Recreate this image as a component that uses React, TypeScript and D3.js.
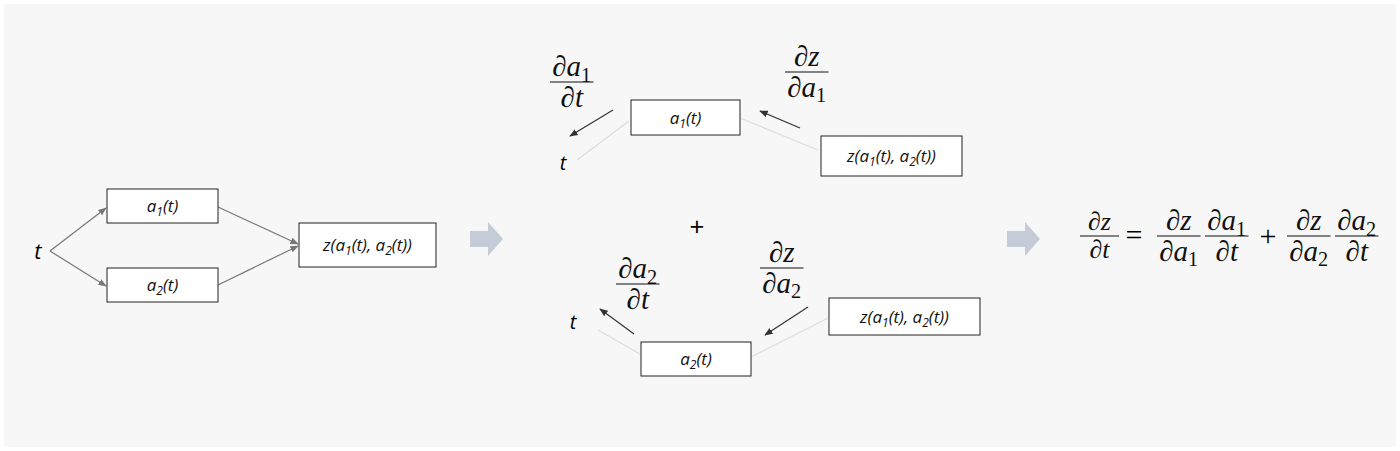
import * as d3 from 'd3';

const boxLabels = ['a1', 'a2', 'z'];
const fracs = [
  { num: ['∂', 'a', '1'], den: ['∂', 't', ''] },
  { num: ['∂', 'z', ''], den: ['∂', 'a', '1'] },
  { num: ['∂', 'a', '2'], den: ['∂', 't', ''] },
  { num: ['∂', 'z', ''], den: ['∂', 'a', '2'] },
];

const serif = '"Liberation Serif", "DejaVu Serif", serif';
const sans = '"Open Sans", "Liberation Sans", Arial, sans-serif';

function Sub({ v, s, size }: { v: string; s: string; size: number }) {
  return (
    <>
      <tspan fontStyle="italic">{v}</tspan>
      {s && <tspan fontSize={size * 0.7} dy={size * 0.2}>{s}</tspan>}
    </>
  );
}

function Frac({ x, y, f, size = 29 }: { x: number; y: number; f: { num: string[]; den: string[] }; size?: number }) {
  const w = size * 1.5;
  return (
    <g transform={`translate(${x},${y})`} fontFamily={serif} fontSize={size} fill="#111">
      <text x={w / 2} y={-6} textAnchor="middle">
        {f.num[0]}<Sub v={f.num[1]} s={f.num[2]} size={size} />
      </text>
      <line x1={0} x2={w} y1={0} y2={0} stroke="#111" strokeWidth={1.2} />
      <text x={w / 2} y={size * 0.85} textAnchor="middle">
        {f.den[0]}<Sub v={f.den[1]} s={f.den[2]} size={size} />
      </text>
    </g>
  );
}

function BoxText({ x, y, w, h, kind }: { x: number; y: number; w: number; h: number; kind: string }) {
  const sub = (n: string) => <tspan fontSize={12} dy={4}>{n}</tspan>;
  return (
    <g>
      <rect x={x} y={y} width={w} height={h} fill="#fff" stroke="#222" strokeWidth={1} />
      <text x={x + w / 2} y={y + h / 2 + 6} textAnchor="middle" fontFamily={sans} fontStyle="italic" fontSize={17} fill="#111">
        {kind === 'z' ? (
          <>z(a{sub('1')}<tspan dy={-4}>(t), a</tspan>{sub('2')}<tspan dy={-4}>(t))</tspan></>
        ) : (
          <>a{sub(kind.slice(1))}<tspan dy={-4}>(t)</tspan></>
        )}
      </text>
    </g>
  );
}

export default function App() {
  const line = d3.line();
  const arrows: { p: [number, number][]; c: string; head: boolean }[] = [
    { p: [[50, 251], [106, 208]], c: '#777', head: true },
    { p: [[50, 251], [106, 286]], c: '#777', head: true },
    { p: [[218, 207], [298, 244]], c: '#777', head: true },
    { p: [[218, 285], [298, 246]], c: '#777', head: true },
    { p: [[613, 110], [570, 136]], c: '#333', head: true },
    { p: [[800, 128], [760, 111]], c: '#333', head: true },
    { p: [[577, 160], [629, 121]], c: '#ddd', head: false },
    { p: [[740, 118], [818, 150]], c: '#ddd', head: false },
    { p: [[634, 334], [600, 309]], c: '#333', head: true },
    { p: [[808, 307], [765, 335]], c: '#333', head: true },
    { p: [[640, 354], [598, 330]], c: '#ddd', head: false },
    { p: [[751, 357], [828, 318]], c: '#ddd', head: false },
  ];
  const block = (x: number) => `M${x},231 h18 v-9 l15,17 l-15,17 v-9 h-18 z`;
  const eqY = 236;
  return (
    <svg width={1400} height={451} style={{ position: 'fixed', left: 0, top: 0 }}>
      <defs>
        {['#777', '#333'].map((c) => (
          <marker key={c} id={`h${c.slice(1)}`} viewBox="0 0 10 10" refX={9} refY={5} markerWidth={7} markerHeight={7} orient="auto">
            <path d="M0,1 L10,5 L0,9 z" fill={c} />
          </marker>
        ))}
      </defs>
      <rect x={0} y={0} width={1400} height={451} fill="#fff" />
      <rect x={4} y={4} width={1392} height={443} fill="#f7f7f7" />
      {arrows.map((a, i) => (
        <path key={i} d={line(a.p) ?? ''} stroke={a.c} strokeWidth={1.2} fill="none"
          markerEnd={a.head ? `url(#h${a.c.slice(1)})` : undefined} />
      ))}
      <text x={38} y={259} fontFamily={sans} fontStyle="italic" fontSize={22} textAnchor="middle">t</text>
      <BoxText x={107} y={189} w={111} h={34} kind={boxLabels[0]} />
      <BoxText x={107} y={268} w={111} h={34} kind={boxLabels[1]} />
      <BoxText x={299} y={223} w={137} h={44} kind={boxLabels[2]} />
      <path d={block(470)} fill="#c5ccd8" />
      <path d={block(1007)} fill="#c5ccd8" />

      <text x={563} y={170} fontFamily={sans} fontStyle="italic" fontSize={20} textAnchor="middle">t</text>
      <BoxText x={631} y={100} w={109} h={35} kind={boxLabels[0]} />
      <BoxText x={821} y={136} w={141} h={40} kind={boxLabels[2]} />
      <Frac x={550} y={82} f={fracs[0]} />
      <Frac x={785} y={72} f={fracs[1]} />

      <text x={697} y={236} fontFamily={sans} fontSize={26} textAnchor="middle">+</text>

      <text x={573} y={329} fontFamily={sans} fontStyle="italic" fontSize={20} textAnchor="middle">t</text>
      <BoxText x={641} y={342} w={110} h={34} kind={boxLabels[1]} />
      <BoxText x={829} y={298} w={151} h={37} kind={boxLabels[2]} />
      <Frac x={616} y={284} f={fracs[2]} />
      <Frac x={760} y={268} f={fracs[3]} />

      <Frac x={1080} y={eqY} f={{ num: ['∂', 'z', ''], den: ['∂', 't', ''] }} size={26} />
      <text x={1134} y={eqY + 9} fontFamily={serif} fontSize={30} textAnchor="middle">=</text>
      <Frac x={1157} y={eqY} f={fracs[1]} />
      <Frac x={1205} y={eqY} f={fracs[0]} />
      <text x={1268} y={eqY + 10} fontFamily={serif} fontSize={30} textAnchor="middle">+</text>
      <Frac x={1287} y={eqY} f={fracs[3]} />
      <Frac x={1335} y={eqY} f={fracs[2]} />
    </svg>
  );
}
